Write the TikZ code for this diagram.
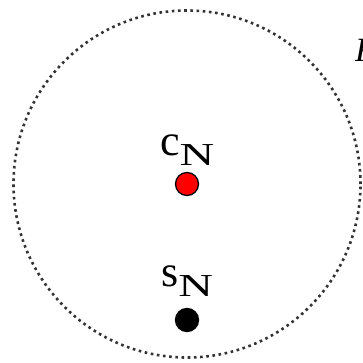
\documentclass[tikz,border=0pt]{standalone}
\usepackage{fontspec}
\setmainfont{Liberation Serif}
\usepackage{graphicx}
\tikzset{
  dotnode/.style={circle, draw=black, line width=1.3pt, inner sep=0pt, minimum size=23pt},
  lbl/.style={anchor=base west, inner sep=0pt, font=\fontsize{44}{44}\selectfont},
  boundary/.style={line width=2.6pt, dash pattern=on 2.6pt off 3.6pt, draw=black!80},
}
\newcommand{\subN}{\raisebox{-10pt}{\fontsize{32}{32}\selectfont\scalebox{1.5}[1]{N}}}
\begin{document}
\begin{tikzpicture}[x=1pt,y=-1pt]
\useasboundingbox (0,0) rectangle (363,363);
\node[circle, boundary, minimum size=347pt, inner sep=0pt] (region) at (187,184) {};
\node[dotnode, fill=red] (c) at (187,184) {};
\node[dotnode, fill=black] (s) at (187,320) {};
\node[lbl] (cl) at (160,156) {c\subN};
\node[lbl] (sl) at (161,286) {s\subN};
\node[anchor=base west, inner sep=0pt, font=\fontsize{34}{34}\selectfont\itshape] (R) at (355,62) {R};
\end{tikzpicture}
\end{document}
